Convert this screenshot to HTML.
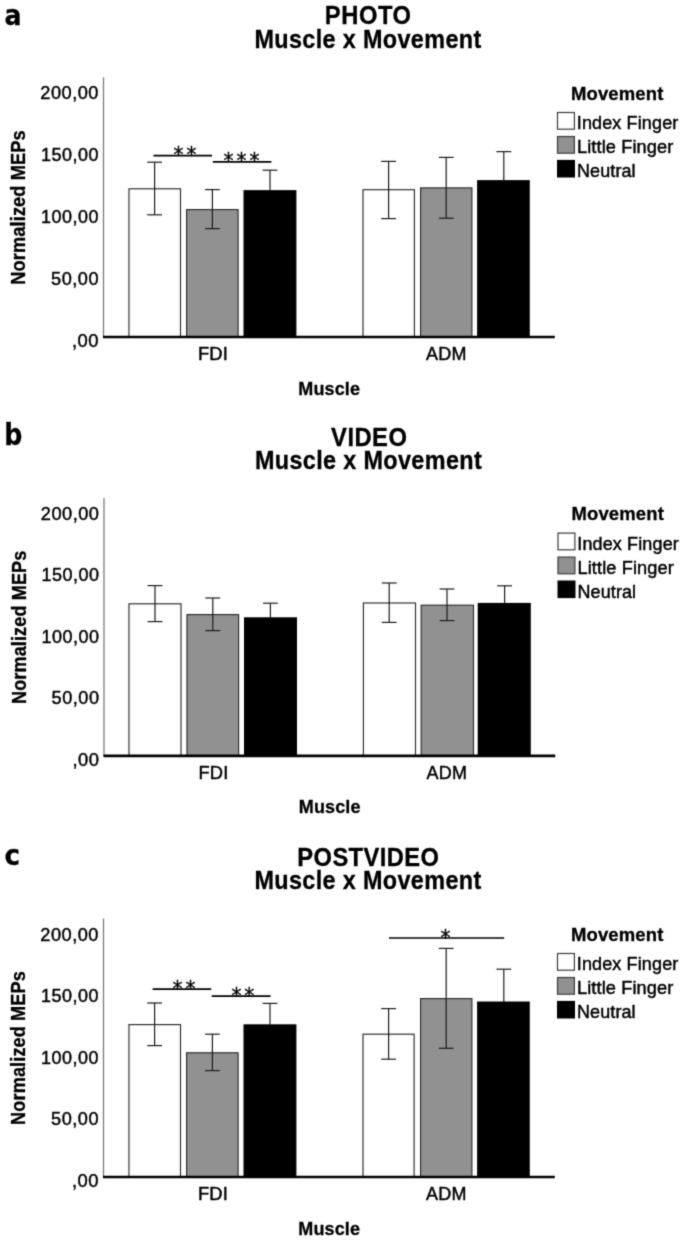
<!DOCTYPE html>
<html><head><meta charset="utf-8"><title>Muscle x Movement</title>
<style>
html,body{margin:0;padding:0;background:#fff}
svg{display:block}
svg text{font-family:"Liberation Sans",sans-serif}
</style></head><body>
<svg width="685" height="1242" viewBox="0 0 685 1242">
<defs><filter id="soft" x="0" y="0" width="100%" height="100%" filterUnits="userSpaceOnUse" color-interpolation-filters="sRGB"><feConvolveMatrix order="3" kernelMatrix="0.025 0.1 0.025 0.1 0.5 0.1 0.025 0.1 0.025" divisor="1" edgeMode="duplicate" preserveAlpha="true"/></filter></defs>
<rect x="0" y="0" width="685" height="1242" fill="#fff"/>
<g filter="url(#soft)">
<rect x="0" y="0" width="685" height="1242" fill="#fff"/>
<text transform="translate(4.49,25.00) scale(0.9055,1.0)" style="font-family:'DejaVu Sans',sans-serif" font-size="27.86" letter-spacing="0.000" font-weight="bold" fill="#000" stroke="#000" stroke-width="0.3">a</text>
<text transform="translate(324.86,24.40) scale(1.0000,1.07)" font-size="23.76" letter-spacing="0.523" font-weight="bold" fill="#000" stroke="#000" stroke-width="0.3">PHOTO</text>
<text transform="translate(254.48,48.20) scale(1.0000,1.07)" font-size="23.41" letter-spacing="0.352" font-weight="bold" fill="#000" stroke="#000" stroke-width="0.3">Muscle x Movement</text>
<line x1="103.50" y1="77.40" x2="103.50" y2="337.00" stroke="#7a7a7a" stroke-width="1.3"/>
<text transform="translate(40.29,99.20) scale(1.0000,0.985)" font-size="18.20" letter-spacing="0.510" font-weight="normal" fill="#000" stroke="#000" stroke-width="0.45">200,00</text>
<text transform="translate(41.05,161.05) scale(1.0000,0.985)" font-size="17.97" letter-spacing="0.500" font-weight="normal" fill="#000" stroke="#000" stroke-width="0.45">150,00</text>
<text transform="translate(41.05,222.90) scale(1.0000,0.985)" font-size="17.97" letter-spacing="0.500" font-weight="normal" fill="#000" stroke="#000" stroke-width="0.45">100,00</text>
<text transform="translate(51.07,284.75) scale(1.0000,0.985)" font-size="18.15" letter-spacing="0.519" font-weight="normal" fill="#000" stroke="#000" stroke-width="0.45">50,00</text>
<text transform="translate(71.95,346.60) scale(1.0000,0.985)" font-size="18.35" letter-spacing="0.547" font-weight="normal" fill="#000" stroke="#000" stroke-width="0.45">,00</text>
<text transform="translate(25.00,284.68) rotate(-90) scale(1.0000,1.07)" font-size="18.22" letter-spacing="0.109" font-weight="bold" fill="#000" stroke="#000" stroke-width="0.3">Normalized MEPs</text>
<rect x="129.00" y="188.80" width="51.50" height="148.20" fill="#fff" stroke="#2a2a2a" stroke-width="1.15"/>
<line x1="154.60" y1="162.20" x2="154.60" y2="214.80" stroke="#1c1c1c" stroke-width="1.2"/>
<line x1="147.20" y1="162.20" x2="162.00" y2="162.20" stroke="#1c1c1c" stroke-width="1.2"/>
<line x1="147.20" y1="214.80" x2="162.00" y2="214.80" stroke="#1c1c1c" stroke-width="1.2"/>
<rect x="186.60" y="209.60" width="51.50" height="127.40" fill="#919191" stroke="#2a2a2a" stroke-width="1.15"/>
<line x1="212.40" y1="189.60" x2="212.40" y2="228.60" stroke="#1c1c1c" stroke-width="1.2"/>
<line x1="205.00" y1="189.60" x2="219.80" y2="189.60" stroke="#1c1c1c" stroke-width="1.2"/>
<line x1="205.00" y1="228.60" x2="219.80" y2="228.60" stroke="#1c1c1c" stroke-width="1.2"/>
<rect x="243.50" y="190.10" width="52.90" height="146.90" fill="#000"/>
<line x1="270.00" y1="170.20" x2="270.00" y2="190.60" stroke="#1c1c1c" stroke-width="1.2"/>
<line x1="262.60" y1="170.20" x2="277.40" y2="170.20" stroke="#1c1c1c" stroke-width="1.2"/>
<rect x="363.00" y="189.70" width="51.40" height="147.30" fill="#fff" stroke="#2a2a2a" stroke-width="1.15"/>
<line x1="388.60" y1="161.40" x2="388.60" y2="218.60" stroke="#1c1c1c" stroke-width="1.2"/>
<line x1="381.20" y1="161.40" x2="396.00" y2="161.40" stroke="#1c1c1c" stroke-width="1.2"/>
<line x1="381.20" y1="218.60" x2="396.00" y2="218.60" stroke="#1c1c1c" stroke-width="1.2"/>
<rect x="420.60" y="187.90" width="51.30" height="149.10" fill="#919191" stroke="#2a2a2a" stroke-width="1.15"/>
<line x1="446.20" y1="157.40" x2="446.20" y2="218.20" stroke="#1c1c1c" stroke-width="1.2"/>
<line x1="438.80" y1="157.40" x2="453.60" y2="157.40" stroke="#1c1c1c" stroke-width="1.2"/>
<line x1="438.80" y1="218.20" x2="453.60" y2="218.20" stroke="#1c1c1c" stroke-width="1.2"/>
<rect x="477.10" y="180.10" width="52.70" height="156.90" fill="#000"/>
<line x1="503.80" y1="151.60" x2="503.80" y2="180.60" stroke="#1c1c1c" stroke-width="1.2"/>
<line x1="496.40" y1="151.60" x2="511.20" y2="151.60" stroke="#1c1c1c" stroke-width="1.2"/>
<line x1="103.00" y1="337.00" x2="554.80" y2="337.00" stroke="#000" stroke-width="2.7"/>
<text transform="translate(197.93,360.40) scale(1.0000,1.03)" font-size="18.33" letter-spacing="0.201" font-weight="normal" fill="#000" stroke="#000" stroke-width="0.45">FDI</text>
<text transform="translate(426.00,360.40) scale(1.0000,1.03)" font-size="17.95" letter-spacing="0.293" font-weight="normal" fill="#000" stroke="#000" stroke-width="0.45">ADM</text>
<text transform="translate(298.33,394.80) scale(1.0000,1.03)" font-size="18.02" letter-spacing="0.120" font-weight="bold" fill="#000" stroke="#000" stroke-width="0.3">Muscle</text>
<text transform="translate(571.00,99.60) scale(1.0000,1.03)" font-size="18.50" letter-spacing="0.130" font-weight="bold" fill="#000" stroke="#000" stroke-width="0.3">Movement</text>
<rect x="557.50" y="112.50" width="16.90" height="16.70" fill="#fff" stroke="#3c3c3c" stroke-width="1.2"/>
<text transform="translate(576.78,129.40) scale(1.0000,1.03)" font-size="18.00" letter-spacing="0.136" font-weight="normal" fill="#000" stroke="#000" stroke-width="0.45">Index Finger</text>
<rect x="557.50" y="136.50" width="16.90" height="16.70" fill="#919191" stroke="#3c3c3c" stroke-width="1.2"/>
<text transform="translate(576.95,153.30) scale(1.0000,1.03)" font-size="18.18" letter-spacing="0.118" font-weight="normal" fill="#000" stroke="#000" stroke-width="0.45">Little Finger</text>
<rect x="557.00" y="159.90" width="18" height="17.6" fill="#000"/>
<text transform="translate(576.96,177.20) scale(1.0000,1.03)" font-size="17.94" letter-spacing="0.140" font-weight="normal" fill="#000" stroke="#000" stroke-width="0.45">Neutral</text>
<line x1="153.40" y1="155.60" x2="212.00" y2="155.60" stroke="#000" stroke-width="1.7"/>
<text transform="translate(178.60,162.19) scale(1,1.06)" font-family="DejaVu Sans, sans-serif" style="font-family:'DejaVu Sans',sans-serif" font-size="20.0" text-anchor="middle" fill="#000" stroke="#000" stroke-width="0.3">*</text>
<text transform="translate(191.40,162.19) scale(1,1.06)" font-family="DejaVu Sans, sans-serif" style="font-family:'DejaVu Sans',sans-serif" font-size="20.0" text-anchor="middle" fill="#000" stroke="#000" stroke-width="0.3">*</text>
<line x1="212.80" y1="161.80" x2="271.40" y2="161.80" stroke="#000" stroke-width="1.7"/>
<text transform="translate(228.60,168.40) scale(1,1.06)" font-family="DejaVu Sans, sans-serif" style="font-family:'DejaVu Sans',sans-serif" font-size="20.0" text-anchor="middle" fill="#000" stroke="#000" stroke-width="0.3">*</text>
<text transform="translate(241.60,168.40) scale(1,1.06)" font-family="DejaVu Sans, sans-serif" style="font-family:'DejaVu Sans',sans-serif" font-size="20.0" text-anchor="middle" fill="#000" stroke="#000" stroke-width="0.3">*</text>
<text transform="translate(254.40,168.40) scale(1,1.06)" font-family="DejaVu Sans, sans-serif" style="font-family:'DejaVu Sans',sans-serif" font-size="20.0" text-anchor="middle" fill="#000" stroke="#000" stroke-width="0.3">*</text>
<text transform="translate(4.35,445.30) scale(0.8360,1.0)" style="font-family:'DejaVu Sans',sans-serif" font-size="30.26" letter-spacing="0.000" font-weight="bold" fill="#000" stroke="#000" stroke-width="0.3">b</text>
<text transform="translate(331.08,445.53) scale(1.0000,1.07)" font-size="23.79" letter-spacing="0.468" font-weight="bold" fill="#000" stroke="#000" stroke-width="0.3">VIDEO</text>
<text transform="translate(254.98,469.17) scale(1.0000,1.07)" font-size="23.41" letter-spacing="0.352" font-weight="bold" fill="#000" stroke="#000" stroke-width="0.3">Muscle x Movement</text>
<line x1="104.00" y1="498.17" x2="104.00" y2="755.97" stroke="#7a7a7a" stroke-width="1.3"/>
<text transform="translate(40.79,519.82) scale(1.0000,0.985)" font-size="18.20" letter-spacing="0.510" font-weight="normal" fill="#000" stroke="#000" stroke-width="0.45">200,00</text>
<text transform="translate(41.55,581.24) scale(1.0000,0.985)" font-size="17.97" letter-spacing="0.500" font-weight="normal" fill="#000" stroke="#000" stroke-width="0.45">150,00</text>
<text transform="translate(41.55,642.66) scale(1.0000,0.985)" font-size="17.97" letter-spacing="0.500" font-weight="normal" fill="#000" stroke="#000" stroke-width="0.45">100,00</text>
<text transform="translate(51.57,704.09) scale(1.0000,0.985)" font-size="18.15" letter-spacing="0.519" font-weight="normal" fill="#000" stroke="#000" stroke-width="0.45">50,00</text>
<text transform="translate(72.45,765.51) scale(1.0000,0.985)" font-size="18.35" letter-spacing="0.547" font-weight="normal" fill="#000" stroke="#000" stroke-width="0.45">,00</text>
<text transform="translate(25.50,704.02) rotate(-90) scale(1.0000,1.07)" font-size="18.10" letter-spacing="0.108" font-weight="bold" fill="#000" stroke="#000" stroke-width="0.3">Normalized MEPs</text>
<rect x="129.00" y="603.80" width="52.00" height="152.17" fill="#fff" stroke="#2a2a2a" stroke-width="1.15"/>
<line x1="155.00" y1="585.60" x2="155.00" y2="621.60" stroke="#1c1c1c" stroke-width="1.2"/>
<line x1="147.60" y1="585.60" x2="162.40" y2="585.60" stroke="#1c1c1c" stroke-width="1.2"/>
<line x1="147.60" y1="621.60" x2="162.40" y2="621.60" stroke="#1c1c1c" stroke-width="1.2"/>
<rect x="187.00" y="614.60" width="51.60" height="141.37" fill="#919191" stroke="#2a2a2a" stroke-width="1.15"/>
<line x1="212.80" y1="598.00" x2="212.80" y2="630.60" stroke="#1c1c1c" stroke-width="1.2"/>
<line x1="205.40" y1="598.00" x2="220.20" y2="598.00" stroke="#1c1c1c" stroke-width="1.2"/>
<line x1="205.40" y1="630.60" x2="220.20" y2="630.60" stroke="#1c1c1c" stroke-width="1.2"/>
<rect x="244.00" y="617.30" width="53.00" height="138.67" fill="#000"/>
<line x1="270.40" y1="603.20" x2="270.40" y2="617.80" stroke="#1c1c1c" stroke-width="1.2"/>
<line x1="263.00" y1="603.20" x2="277.80" y2="603.20" stroke="#1c1c1c" stroke-width="1.2"/>
<rect x="363.40" y="603.00" width="52.10" height="152.97" fill="#fff" stroke="#2a2a2a" stroke-width="1.15"/>
<line x1="389.20" y1="583.00" x2="389.20" y2="622.40" stroke="#1c1c1c" stroke-width="1.2"/>
<line x1="381.80" y1="583.00" x2="396.60" y2="583.00" stroke="#1c1c1c" stroke-width="1.2"/>
<line x1="381.80" y1="622.40" x2="396.60" y2="622.40" stroke="#1c1c1c" stroke-width="1.2"/>
<rect x="421.20" y="605.20" width="52.30" height="150.77" fill="#919191" stroke="#2a2a2a" stroke-width="1.15"/>
<line x1="447.00" y1="589.00" x2="447.00" y2="620.60" stroke="#1c1c1c" stroke-width="1.2"/>
<line x1="439.60" y1="589.00" x2="454.40" y2="589.00" stroke="#1c1c1c" stroke-width="1.2"/>
<line x1="439.60" y1="620.60" x2="454.40" y2="620.60" stroke="#1c1c1c" stroke-width="1.2"/>
<rect x="477.70" y="602.90" width="53.10" height="153.07" fill="#000"/>
<line x1="504.60" y1="585.80" x2="504.60" y2="603.40" stroke="#1c1c1c" stroke-width="1.2"/>
<line x1="497.20" y1="585.80" x2="512.00" y2="585.80" stroke="#1c1c1c" stroke-width="1.2"/>
<line x1="103.50" y1="755.97" x2="555.30" y2="755.97" stroke="#000" stroke-width="2.7"/>
<text transform="translate(198.43,779.21) scale(1.0000,1.03)" font-size="18.33" letter-spacing="0.201" font-weight="normal" fill="#000" stroke="#000" stroke-width="0.45">FDI</text>
<text transform="translate(426.50,779.21) scale(1.0000,1.03)" font-size="17.95" letter-spacing="0.293" font-weight="normal" fill="#000" stroke="#000" stroke-width="0.45">ADM</text>
<text transform="translate(298.83,813.38) scale(1.0000,1.03)" font-size="18.02" letter-spacing="0.120" font-weight="bold" fill="#000" stroke="#000" stroke-width="0.3">Muscle</text>
<text transform="translate(571.50,520.20) scale(1.0000,1.03)" font-size="18.50" letter-spacing="0.130" font-weight="bold" fill="#000" stroke="#000" stroke-width="0.3">Movement</text>
<rect x="558.00" y="533.10" width="16.90" height="16.70" fill="#fff" stroke="#3c3c3c" stroke-width="1.2"/>
<text transform="translate(577.28,550.00) scale(1.0000,1.03)" font-size="18.00" letter-spacing="0.136" font-weight="normal" fill="#000" stroke="#000" stroke-width="0.45">Index Finger</text>
<rect x="558.00" y="557.10" width="16.90" height="16.70" fill="#919191" stroke="#3c3c3c" stroke-width="1.2"/>
<text transform="translate(577.45,573.90) scale(1.0000,1.03)" font-size="18.18" letter-spacing="0.118" font-weight="normal" fill="#000" stroke="#000" stroke-width="0.45">Little Finger</text>
<rect x="557.50" y="580.50" width="18" height="17.6" fill="#000"/>
<text transform="translate(577.46,597.80) scale(1.0000,1.03)" font-size="17.94" letter-spacing="0.140" font-weight="normal" fill="#000" stroke="#000" stroke-width="0.45">Neutral</text>
<text transform="translate(4.45,865.30) scale(0.9400,1.0)" style="font-family:'DejaVu Sans',sans-serif" font-size="27.86" letter-spacing="0.000" font-weight="bold" fill="#000" stroke="#000" stroke-width="0.3">c</text>
<text transform="translate(297.26,865.67) scale(1.0000,1.07)" font-size="23.71" letter-spacing="0.435" font-weight="bold" fill="#000" stroke="#000" stroke-width="0.3">POSTVIDEO</text>
<text transform="translate(254.48,889.37) scale(1.0000,1.07)" font-size="23.41" letter-spacing="0.352" font-weight="bold" fill="#000" stroke="#000" stroke-width="0.3">Muscle x Movement</text>
<line x1="103.50" y1="918.46" x2="103.50" y2="1177.00" stroke="#7a7a7a" stroke-width="1.3"/>
<text transform="translate(40.29,940.67) scale(1.0000,0.985)" font-size="18.20" letter-spacing="0.510" font-weight="normal" fill="#000" stroke="#000" stroke-width="0.45">200,00</text>
<text transform="translate(41.05,1002.14) scale(1.0000,0.985)" font-size="17.97" letter-spacing="0.500" font-weight="normal" fill="#000" stroke="#000" stroke-width="0.45">150,00</text>
<text transform="translate(41.05,1063.62) scale(1.0000,0.985)" font-size="17.97" letter-spacing="0.500" font-weight="normal" fill="#000" stroke="#000" stroke-width="0.45">100,00</text>
<text transform="translate(51.07,1125.09) scale(1.0000,0.985)" font-size="18.15" letter-spacing="0.519" font-weight="normal" fill="#000" stroke="#000" stroke-width="0.45">50,00</text>
<text transform="translate(71.95,1186.56) scale(1.0000,0.985)" font-size="18.35" letter-spacing="0.547" font-weight="normal" fill="#000" stroke="#000" stroke-width="0.45">,00</text>
<text transform="translate(25.00,1124.90) rotate(-90) scale(1.0000,1.07)" font-size="18.15" letter-spacing="0.108" font-weight="bold" fill="#000" stroke="#000" stroke-width="0.3">Normalized MEPs</text>
<rect x="129.00" y="1024.60" width="51.50" height="152.40" fill="#fff" stroke="#2a2a2a" stroke-width="1.15"/>
<line x1="154.60" y1="1003.00" x2="154.60" y2="1045.60" stroke="#1c1c1c" stroke-width="1.2"/>
<line x1="147.20" y1="1003.00" x2="162.00" y2="1003.00" stroke="#1c1c1c" stroke-width="1.2"/>
<line x1="147.20" y1="1045.60" x2="162.00" y2="1045.60" stroke="#1c1c1c" stroke-width="1.2"/>
<rect x="186.60" y="1052.80" width="51.50" height="124.20" fill="#919191" stroke="#2a2a2a" stroke-width="1.15"/>
<line x1="212.40" y1="1034.20" x2="212.40" y2="1070.60" stroke="#1c1c1c" stroke-width="1.2"/>
<line x1="205.00" y1="1034.20" x2="219.80" y2="1034.20" stroke="#1c1c1c" stroke-width="1.2"/>
<line x1="205.00" y1="1070.60" x2="219.80" y2="1070.60" stroke="#1c1c1c" stroke-width="1.2"/>
<rect x="243.50" y="1024.30" width="52.90" height="152.70" fill="#000"/>
<line x1="270.00" y1="1003.40" x2="270.00" y2="1024.80" stroke="#1c1c1c" stroke-width="1.2"/>
<line x1="262.60" y1="1003.40" x2="277.40" y2="1003.40" stroke="#1c1c1c" stroke-width="1.2"/>
<rect x="363.00" y="1034.20" width="51.10" height="142.80" fill="#fff" stroke="#2a2a2a" stroke-width="1.15"/>
<line x1="388.60" y1="1008.60" x2="388.60" y2="1059.20" stroke="#1c1c1c" stroke-width="1.2"/>
<line x1="381.20" y1="1008.60" x2="396.00" y2="1008.60" stroke="#1c1c1c" stroke-width="1.2"/>
<line x1="381.20" y1="1059.20" x2="396.00" y2="1059.20" stroke="#1c1c1c" stroke-width="1.2"/>
<rect x="420.60" y="998.60" width="51.30" height="178.40" fill="#919191" stroke="#2a2a2a" stroke-width="1.15"/>
<line x1="446.20" y1="948.40" x2="446.20" y2="1048.30" stroke="#1c1c1c" stroke-width="1.2"/>
<line x1="438.80" y1="948.40" x2="453.60" y2="948.40" stroke="#1c1c1c" stroke-width="1.2"/>
<line x1="438.80" y1="1048.30" x2="453.60" y2="1048.30" stroke="#1c1c1c" stroke-width="1.2"/>
<rect x="477.10" y="1001.50" width="52.70" height="175.50" fill="#000"/>
<line x1="503.80" y1="969.20" x2="503.80" y2="1002.00" stroke="#1c1c1c" stroke-width="1.2"/>
<line x1="496.40" y1="969.20" x2="511.20" y2="969.20" stroke="#1c1c1c" stroke-width="1.2"/>
<line x1="103.00" y1="1177.00" x2="554.80" y2="1177.00" stroke="#000" stroke-width="2.7"/>
<text transform="translate(197.93,1200.31) scale(1.0000,1.03)" font-size="18.33" letter-spacing="0.201" font-weight="normal" fill="#000" stroke="#000" stroke-width="0.45">FDI</text>
<text transform="translate(426.00,1200.31) scale(1.0000,1.03)" font-size="17.95" letter-spacing="0.293" font-weight="normal" fill="#000" stroke="#000" stroke-width="0.45">ADM</text>
<text transform="translate(298.33,1234.57) scale(1.0000,1.03)" font-size="18.02" letter-spacing="0.120" font-weight="bold" fill="#000" stroke="#000" stroke-width="0.3">Muscle</text>
<text transform="translate(571.00,940.60) scale(1.0000,1.03)" font-size="18.50" letter-spacing="0.130" font-weight="bold" fill="#000" stroke="#000" stroke-width="0.3">Movement</text>
<rect x="557.50" y="953.50" width="16.90" height="16.70" fill="#fff" stroke="#3c3c3c" stroke-width="1.2"/>
<text transform="translate(576.78,970.40) scale(1.0000,1.03)" font-size="18.00" letter-spacing="0.136" font-weight="normal" fill="#000" stroke="#000" stroke-width="0.45">Index Finger</text>
<rect x="557.50" y="977.50" width="16.90" height="16.70" fill="#919191" stroke="#3c3c3c" stroke-width="1.2"/>
<text transform="translate(576.95,994.30) scale(1.0000,1.03)" font-size="18.18" letter-spacing="0.118" font-weight="normal" fill="#000" stroke="#000" stroke-width="0.45">Little Finger</text>
<rect x="557.00" y="1000.90" width="18" height="17.6" fill="#000"/>
<text transform="translate(576.96,1018.20) scale(1.0000,1.03)" font-size="17.94" letter-spacing="0.140" font-weight="normal" fill="#000" stroke="#000" stroke-width="0.45">Neutral</text>
<line x1="152.60" y1="989.20" x2="211.20" y2="989.20" stroke="#000" stroke-width="1.7"/>
<text transform="translate(177.60,995.80) scale(1,1.06)" font-family="DejaVu Sans, sans-serif" style="font-family:'DejaVu Sans',sans-serif" font-size="20.0" text-anchor="middle" fill="#000" stroke="#000" stroke-width="0.3">*</text>
<text transform="translate(190.40,995.80) scale(1,1.06)" font-family="DejaVu Sans, sans-serif" style="font-family:'DejaVu Sans',sans-serif" font-size="20.0" text-anchor="middle" fill="#000" stroke="#000" stroke-width="0.3">*</text>
<line x1="211.80" y1="996.20" x2="270.60" y2="996.20" stroke="#000" stroke-width="1.7"/>
<text transform="translate(236.40,1002.80) scale(1,1.06)" font-family="DejaVu Sans, sans-serif" style="font-family:'DejaVu Sans',sans-serif" font-size="20.0" text-anchor="middle" fill="#000" stroke="#000" stroke-width="0.3">*</text>
<text transform="translate(249.20,1002.80) scale(1,1.06)" font-family="DejaVu Sans, sans-serif" style="font-family:'DejaVu Sans',sans-serif" font-size="20.0" text-anchor="middle" fill="#000" stroke="#000" stroke-width="0.3">*</text>
<line x1="389.00" y1="938.00" x2="504.20" y2="938.00" stroke="#000" stroke-width="1.7"/>
<text transform="translate(445.40,944.60) scale(1,1.06)" font-family="DejaVu Sans, sans-serif" style="font-family:'DejaVu Sans',sans-serif" font-size="20.0" text-anchor="middle" fill="#000" stroke="#000" stroke-width="0.3">*</text>
</g>
</svg>
</body></html>
